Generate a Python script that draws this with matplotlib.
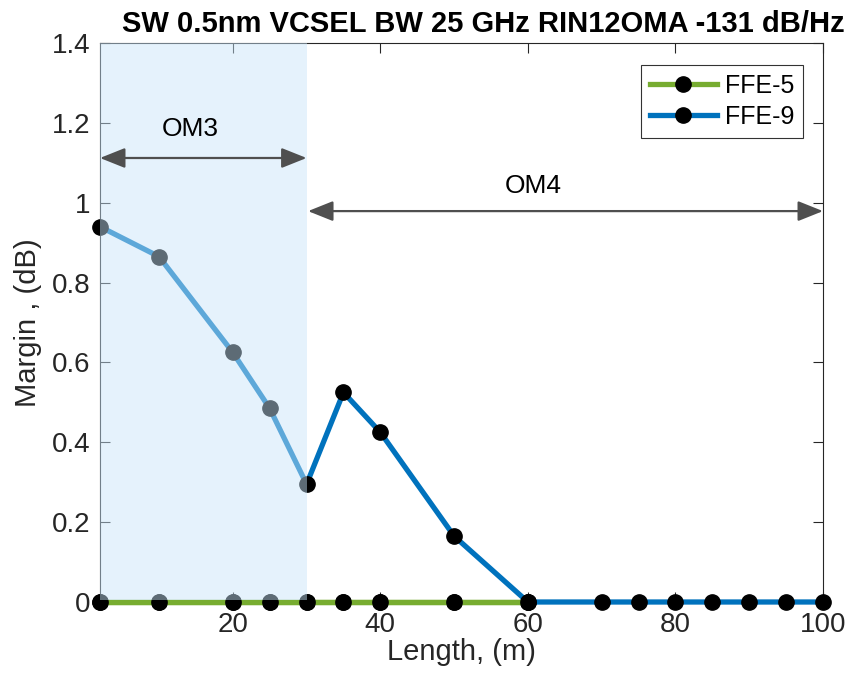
import numpy as np
import matplotlib.pyplot as plt
from matplotlib.patches import Rectangle

plt.rcParams['font.family'] = ['Liberation Sans', 'DejaVu Sans']

# Data
length = [2, 10, 20, 25, 30, 35, 40, 50, 60, 70, 75, 80, 85, 90, 95, 100]
ffe5 = [0, 0, 0, 0, 0, 0, 0, 0, 0, 0, 0, 0, 0, 0, 0, 0]
ffe9 = [0.94, 0.865, 0.625, 0.485, 0.295, 0.525, 0.425, 0.165, 0,
        0, 0, 0, 0, 0, 0, 0]

om3_range = (2, 30)
om4_range = (30, 100)

fig = plt.figure(figsize=(8.61, 6.91), dpi=100)
ax = fig.add_axes([100 / 861, 1 - 602 / 691, 723 / 861, 559 / 691])

style = dict(lw=3.8, marker='o', mfc='black', mec='black', ms=11,
             clip_on=False)
ax.plot(length[:9], ffe5[:9], color='#77AC30', label='FFE-5', zorder=2, **style)
ax.plot(length, ffe9, color='#0072BD', label='FFE-9', zorder=3, **style)
# green goes on top up to 60 m, blue beyond
ax.plot(length[:9], ffe5[:9], color='#77AC30', zorder=4, **style)

# shaded OM3 region drawn over the lines
ax.add_patch(Rectangle((om3_range[0], 0.006), om3_range[1] - om3_range[0], 1.394,
                       facecolor='#c8e5fa', alpha=0.47, edgecolor='none',
                       zorder=5))

arrow = dict(arrowstyle='<|-|>,head_length=0.7,head_width=0.28',
             color='#4f4f4f', lw=1.6, mutation_scale=22, shrinkA=0, shrinkB=0)
ax.annotate('', xy=(om3_range[0], 1.112), xytext=(om3_range[1], 1.112),
            arrowprops=arrow, zorder=6)
ax.annotate('', xy=(om4_range[0] + 0.2, 0.979), xytext=(om4_range[1], 0.979),
            arrowprops=arrow, zorder=6, annotation_clip=False)
ax.text(14.3, 1.185, 'OM3', fontsize=19, ha='center', va='center', zorder=7)
ax.text(60.7, 1.042, 'OM4', fontsize=19, ha='center', va='center', zorder=7)

ax.set_xlim(2, 100)
ax.set_ylim(0, 1.4)
ax.set_xticks([20, 40, 60, 80, 100])
ax.set_yticks([0, 0.2, 0.4, 0.6, 0.8, 1, 1.2, 1.4])
ax.set_yticklabels(['0', '0.2', '0.4', '0.6', '0.8', '1', '1.2', '1.4'])
ax.tick_params(direction='in', length=7, labelsize=20, colors='#262626',
               top=True, right=True, width=0.8, pad=7)
for s in ax.spines.values():
    s.set_color('#262626')
    s.set_linewidth(0.8)

ax.set_xlabel('Length, (m)', fontsize=21, color='#262626', labelpad=0)
ax.set_ylabel('Margin , (dB)', fontsize=21, color='#262626', labelpad=7)
ax.set_title('SW 0.5nm VCSEL BW 25 GHz RIN12OMA -131 dB/Hz',
             fontsize=21, fontweight='bold', pad=8, x=0.53)

leg = ax.legend(loc='upper right', fontsize=18, frameon=True, fancybox=False,
                edgecolor='black', handlelength=2.7, handletextpad=0.3,
                labelspacing=0.3, borderpad=0.35, borderaxespad=0,
                bbox_to_anchor=(0.972, 0.961))
leg.get_frame().set_linewidth(0.8)
leg.set_zorder(8)

fig.savefig('out.png', dpi=100)
